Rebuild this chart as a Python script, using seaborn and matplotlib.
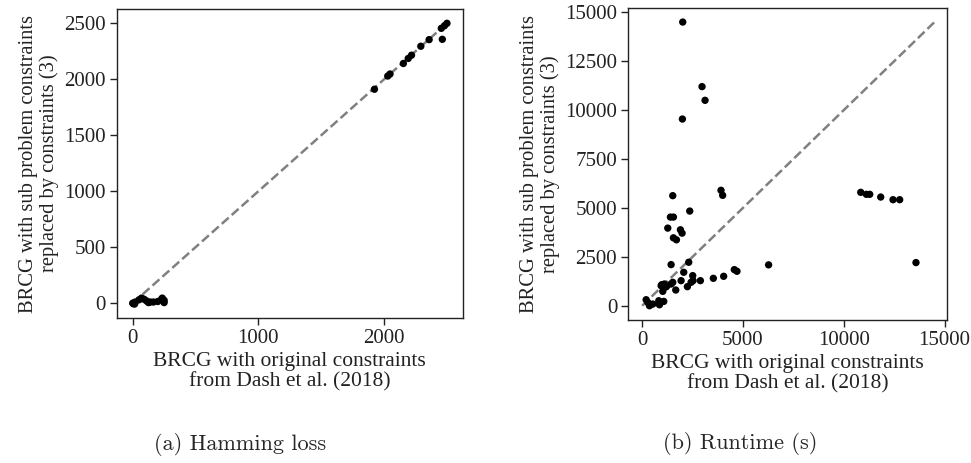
import numpy as np
import pandas as pd
import seaborn as sns
from matplotlib import pyplot as plt

# Hamming loss: original constraints (x) vs. constraints (3) (y)
hamming_orig = [0, 5, 15, 20, 50, 70, 90, 110, 125, 140, 165, 200, 230, 235, 250, 250,
                1923, 2029, 2047, 2153, 2192, 2218, 2292, 2358, 2463, 2455, 2480, 2500]
hamming_new = [0, -5, -8, 10, 30, 45, 35, 20, 5, 10, 10, 15, 35, 45, 5, 25,
               1911, 2029, 2047, 2141, 2186, 2215, 2295, 2354, 2357, 2455, 2478, 2500]

# Runtime (s)
runtime_orig = [198, 363, 528, 858, 1073, 974, 1073, 1205, 1023, 1436, 1518, 1667,
                1436, 1931, 2063, 2244, 2310, 2426, 2508, 2525, 2888, 3531, 4043,
                4571, 4703, 6271, 281, 825, 1106, 941,
                2013, 2970, 3119, 1996, 3911, 3993, 1518, 2360, 1403, 1551, 1271,
                1898, 1980, 1551, 1700,
                10842, 11122, 11287, 11832, 12442, 12772, 13581]
runtime_new = [308, 0, 86, 51, 222, 1077, 906, 975, 736, 1111, 1197, 804,
               2103, 1283, 1710, 975, 2223, 1197, 1539, 1283, 1283, 1402, 1505,
               1847, 1762, 2089, 171, 256, 1112, 1026,
               14500, 11200, 10500, 9543, 5900, 5643, 5626, 4840, 4532, 4532, 3968,
               3883, 3711, 3472, 3370,
               5797, 5695, 5695, 5556, 5420, 5420, 2206]

xlabel = "BRCG with original constraints\nfrom Dash et al. (2018)"
ylabel = "BRCG with sub problem constraints\nreplaced by constraints (3)"
captions = ["(a) Hamming loss", "(b) Runtime (s)"]


def scatter_panel(ax, x, y):
    data = pd.DataFrame({"orig": x, "new": y})
    lim = max(data["orig"].max(), data["new"].max())
    ax.plot([0, lim], [0, lim], color="grey", linestyle="--", linewidth=1.8, zorder=1)
    sns.scatterplot(data=data, x="orig", y="new", color="black", s=28,
                    edgecolor="none", ax=ax, zorder=2)
    ax.set_xlabel(xlabel, fontsize=15.5, family="Liberation Serif", labelpad=3,
                  linespacing=1.05, color="#222222")
    ax.set_ylabel(ylabel, fontsize=14.8, family="Liberation Serif", labelpad=4,
                  linespacing=1.05, color="#222222")
    ax.tick_params(length=5, width=1, color="#222222", labelcolor="#222222", pad=3)
    for lab in ax.get_xticklabels() + ax.get_yticklabels():
        lab.set_family("Liberation Serif")
        lab.set_fontsize(15)
    for sp in ax.spines.values():
        sp.set_color("#222222")
        sp.set_linewidth(1.0)


sns.set_style("ticks")
fig = plt.figure(figsize=(9.71, 4.63), dpi=100)
ax1 = fig.add_axes([0.1205, 0.313, 0.356, 0.667])
ax2 = fig.add_axes([0.647, 0.309, 0.3285, 0.674])

scatter_panel(ax1, hamming_orig, hamming_new)
ax1.set_xticks([0, 1000, 2000])
ax1.set_yticks([0, 500, 1000, 1500, 2000, 2500])

scatter_panel(ax2, runtime_orig, runtime_new)
ax2.set_xticks([0, 5000, 10000, 15000])
ax2.set_yticks([0, 2500, 5000, 7500, 10000, 12500, 15000])
ax2.set_xlim(-690, 15130)

fig.text(0.247, 0.040, captions[0], ha="center", va="center", fontsize=16, family="cmr10")
fig.text(0.762, 0.043, captions[1], ha="center", va="center", fontsize=16, family="cmr10")

plt.savefig("out.png", dpi=100)
print("Figure saved.")
